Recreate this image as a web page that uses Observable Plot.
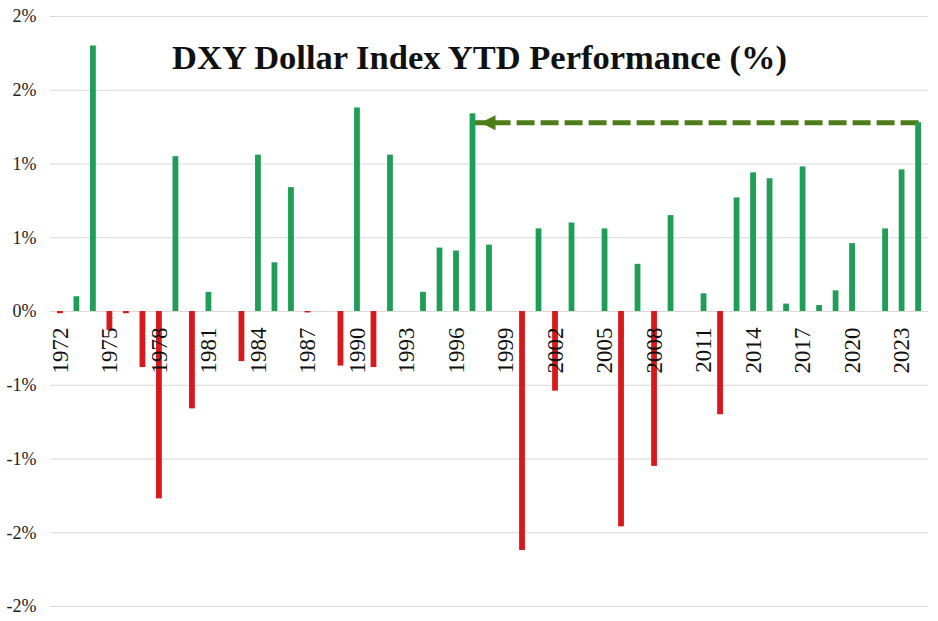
<!DOCTYPE html>
<html>
<head>
<meta charset="utf-8">
<script src="https://cdn.jsdelivr.net/npm/d3@7"></script>
<script src="https://cdn.jsdelivr.net/npm/@observablehq/plot@0.6"></script>
<style>
  html, body { margin: 0; padding: 0; background: #fff; }
  #chart { width: 938px; height: 621px; position: relative; }
  #chart svg text { font-family: "Liberation Serif", "DejaVu Serif", serif !important; }
</style>
</head>
<body>
<div id="chart"></div>
<script>
const titleText = "DXY Dollar Index YTD Performance (%)";

const years = [1972, 1973, 1974, 1975, 1976, 1977, 1978, 1979, 1980, 1981,
  1982, 1983, 1984, 1985, 1986, 1987, 1988, 1989, 1990, 1991,
  1992, 1993, 1994, 1995, 1996, 1997, 1998, 1999, 2000, 2001,
  2002, 2003, 2004, 2005, 2006, 2007, 2008, 2009, 2010, 2011,
  2012, 2013, 2014, 2015, 2016, 2017, 2018, 2019, 2020, 2021,
  2022, 2023, 2024];

// YTD performance, percent
const ytd = [-0.015, 0.10, 1.80, -0.13, -0.015, -0.38, -1.27, 1.05, -0.66, 0.13,
  0, -0.34, 1.06, 0.33, 0.84, -0.01, 0, -0.37, 1.38, -0.38,
  1.06, 0, 0.13, 0.43, 0.41, 1.34, 0.45, 0, -1.62, 0.56,
  -0.54, 0.60, 0, 0.56, -1.46, 0.32, -1.05, 0.65, 0, 0.12,
  -0.70, 0.77, 0.94, 0.90, 0.05, 0.98, 0.04, 0.14, 0.46, 0,
  0.56, 0.96, 1.28];

const yearLabels = [1972, 1975, 1978, 1981, 1984, 1987, 1990, 1993, 1996, 1999,
  2002, 2005, 2008, 2011, 2014, 2017, 2020, 2023];

const yTicks = [-2, -1.5, -1, -0.5, 0, 0.5, 1, 1.5, 2];

const arrowFrom = 2024;
const arrowTo = 1997;

const data = years.map((year, i) => ({year, value: ytd[i]}));
const latest = data.find(d => d.year === arrowFrom).value;
const arrowData = [{year: arrowFrom, value: latest}, {year: arrowTo, value: latest}];

const GREEN = "#1f9e57";
const RED = "#d8181b";
const OLIVE = "#4e7d17";
const SERIF = "Liberation Serif";

const leftTriangle = {
  draw(context) {
    context.moveTo(-7.5, 0);
    context.lineTo(7.5, -7.5);
    context.lineTo(7.5, 7.5);
    context.closePath();
  }
};

const fmt = v => {
  const r = Math.sign(v) * Math.round(Math.abs(v));
  return (r === 0 ? "0" : String(r)) + "%";
};

const chart = Plot.plot({
  width: 938,
  height: 621,
  marginTop: 16,
  marginBottom: 15,
  marginLeft: 50,
  marginRight: 10,
  style: {background: "#fff"},
  x: {type: "band", domain: years, paddingInner: 0.65, paddingOuter: 0.425, round: false, axis: null},
  y: {domain: [-2, 2], axis: null, label: null},
  color: {type: "identity"},
  marks: [
    Plot.gridY(yTicks, {stroke: "#d9d9d9", strokeOpacity: 1, strokeWidth: 1}),
    Plot.axisY(yTicks, {
      tickSize: 0, tickPadding: 14, tickFormat: fmt, label: null,
      fontSize: 18, fill: "#222", fontFamily: SERIF
    }),
    Plot.line(arrowData, {
      x: "year", y: "value", stroke: OLIVE, strokeWidth: 5,
      strokeDasharray: "18,6", strokeLinecap: "butt"
    }),
    Plot.barY(data, {
      x: "year", y: "value",
      fill: d => d.value >= 0 ? GREEN : RED
    }),
    Plot.dot([arrowData[1]], {
      x: "year", y: "value", symbol: leftTriangle, fill: OLIVE, stroke: null, r: 8, dx: 15
    }),
    Plot.text(yearLabels, {
      x: d => d, y: () => 0, text: d => String(d),
      rotate: -90, textAnchor: "end", dy: 16,
      fontSize: 23, fill: "#111", fontFamily: SERIF
    }),
    Plot.text([titleText], {
      frameAnchor: "top", dy: 28, dx: -10,
      fontSize: 34.5, fontWeight: "bold", fill: "#111", fontFamily: SERIF
    })
  ]
});

document.getElementById("chart").appendChild(chart);
</script>
</body>
</html>
